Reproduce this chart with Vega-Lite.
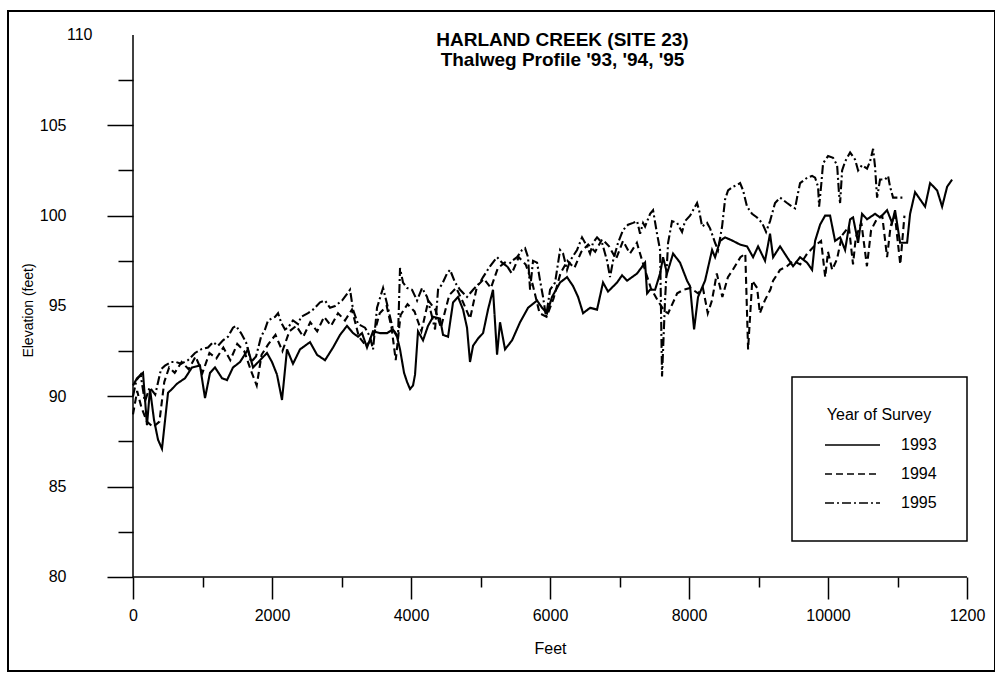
{
"$schema": "https://vega.github.io/schema/vega-lite/v6.json",
"width": 987, "height": 660,
"autosize": {"type": "none"},
"padding": {"left": 8, "top": 11, "right": 0, "bottom": 6},
"background": "white",
"config": {"view": {"stroke": "black", "strokeWidth": 2}, "font": "Liberation Sans"},
"title": {"text": ["HARLAND CREEK (SITE 23)", "Thalweg Profile '93, '94, '95"], "orient": "top", "anchor": "middle", "frame": "group", "offset": 0, "dx": 61, "dy": 59, "fontSize": 19, "fontWeight": "bold", "lineHeight": 20, "font": "Liberation Sans", "color": "black"},
"datasets": {
"profiles": [
{"Year":"1993","Feet":0,"Elevation":90.6},{"Year":"1993","Feet":58,"Elevation":91.0},{"Year":"1993","Feet":144,"Elevation":91.3},{"Year":"1993","Feet":201,"Elevation":88.4},{"Year":"1993","Feet":245,"Elevation":90.4},{"Year":"1993","Feet":302,"Elevation":88.7},{"Year":"1993","Feet":360,"Elevation":87.6},{"Year":"1993","Feet":417,"Elevation":87.1},{"Year":"1993","Feet":504,"Elevation":90.2},{"Year":"1993","Feet":561,"Elevation":90.4},{"Year":"1993","Feet":633,"Elevation":90.7},{"Year":"1993","Feet":748,"Elevation":91.0},{"Year":"1993","Feet":849,"Elevation":91.6},{"Year":"1993","Feet":964,"Elevation":91.7},{"Year":"1993","Feet":1036,"Elevation":89.9},{"Year":"1993","Feet":1108,"Elevation":91.3},{"Year":"1993","Feet":1180,"Elevation":91.6},{"Year":"1993","Feet":1281,"Elevation":91.0},{"Year":"1993","Feet":1353,"Elevation":90.9},{"Year":"1993","Feet":1439,"Elevation":91.6},{"Year":"1993","Feet":1540,"Elevation":91.9},{"Year":"1993","Feet":1655,"Elevation":92.6},{"Year":"1993","Feet":1727,"Elevation":91.6},{"Year":"1993","Feet":1828,"Elevation":92.0},{"Year":"1993","Feet":1928,"Elevation":92.4},{"Year":"1993","Feet":2000,"Elevation":91.9},{"Year":"1993","Feet":2072,"Elevation":91.2},{"Year":"1993","Feet":2144,"Elevation":89.8},{"Year":"1993","Feet":2216,"Elevation":92.6},{"Year":"1993","Feet":2302,"Elevation":91.8},{"Year":"1993","Feet":2403,"Elevation":92.6},{"Year":"1993","Feet":2475,"Elevation":92.8},{"Year":"1993","Feet":2547,"Elevation":93.0},{"Year":"1993","Feet":2648,"Elevation":92.3},{"Year":"1993","Feet":2763,"Elevation":92.0},{"Year":"1993","Feet":2878,"Elevation":92.7},{"Year":"1993","Feet":2979,"Elevation":93.4},{"Year":"1993","Feet":3079,"Elevation":93.9},{"Year":"1993","Feet":3166,"Elevation":93.5},{"Year":"1993","Feet":3238,"Elevation":93.3},{"Year":"1993","Feet":3295,"Elevation":93.5},{"Year":"1993","Feet":3367,"Elevation":92.7},{"Year":"1993","Feet":3454,"Elevation":93.6},{"Year":"1993","Feet":3554,"Elevation":93.5},{"Year":"1993","Feet":3655,"Elevation":93.5},{"Year":"1993","Feet":3741,"Elevation":93.7},{"Year":"1993","Feet":3799,"Elevation":93.3},{"Year":"1993","Feet":3842,"Elevation":92.6},{"Year":"1993","Feet":3900,"Elevation":91.3},{"Year":"1993","Feet":3943,"Elevation":90.8},{"Year":"1993","Feet":3986,"Elevation":90.4},{"Year":"1993","Feet":4029,"Elevation":90.6},{"Year":"1993","Feet":4058,"Elevation":91.2},{"Year":"1993","Feet":4101,"Elevation":93.6},{"Year":"1993","Feet":4173,"Elevation":93.1},{"Year":"1993","Feet":4245,"Elevation":93.9},{"Year":"1993","Feet":4317,"Elevation":94.4},{"Year":"1993","Feet":4418,"Elevation":94.3},{"Year":"1993","Feet":4461,"Elevation":93.4},{"Year":"1993","Feet":4533,"Elevation":93.3},{"Year":"1993","Feet":4605,"Elevation":95.2},{"Year":"1993","Feet":4677,"Elevation":95.5},{"Year":"1993","Feet":4749,"Elevation":94.8},{"Year":"1993","Feet":4806,"Elevation":93.8},{"Year":"1993","Feet":4849,"Elevation":91.9},{"Year":"1993","Feet":4893,"Elevation":92.8},{"Year":"1993","Feet":4965,"Elevation":93.2},{"Year":"1993","Feet":5037,"Elevation":93.5},{"Year":"1993","Feet":5108,"Elevation":94.8},{"Year":"1993","Feet":5180,"Elevation":95.9},{"Year":"1993","Feet":5238,"Elevation":92.3},{"Year":"1993","Feet":5281,"Elevation":94.1},{"Year":"1993","Feet":5353,"Elevation":92.6},{"Year":"1993","Feet":5454,"Elevation":93.1},{"Year":"1993","Feet":5569,"Elevation":94.1},{"Year":"1993","Feet":5684,"Elevation":94.9},{"Year":"1993","Feet":5814,"Elevation":95.3},{"Year":"1993","Feet":5886,"Elevation":94.9},{"Year":"1993","Feet":5957,"Elevation":94.6},{"Year":"1993","Feet":6029,"Elevation":95.5},{"Year":"1993","Feet":6145,"Elevation":96.3},{"Year":"1993","Feet":6245,"Elevation":96.6},{"Year":"1993","Feet":6332,"Elevation":96.1},{"Year":"1993","Feet":6404,"Elevation":95.5},{"Year":"1993","Feet":6476,"Elevation":94.6},{"Year":"1993","Feet":6576,"Elevation":94.9},{"Year":"1993","Feet":6677,"Elevation":94.8},{"Year":"1993","Feet":6763,"Elevation":96.3},{"Year":"1993","Feet":6835,"Elevation":95.8},{"Year":"1993","Feet":6965,"Elevation":96.3},{"Year":"1993","Feet":7037,"Elevation":96.7},{"Year":"1993","Feet":7109,"Elevation":96.4},{"Year":"1993","Feet":7253,"Elevation":96.8},{"Year":"1993","Feet":7368,"Elevation":97.4},{"Year":"1993","Feet":7397,"Elevation":95.7},{"Year":"1993","Feet":7440,"Elevation":95.9},{"Year":"1993","Feet":7512,"Elevation":95.9},{"Year":"1993","Feet":7584,"Elevation":96.8},{"Year":"1993","Feet":7627,"Elevation":97.7},{"Year":"1993","Feet":7684,"Elevation":96.8},{"Year":"1993","Feet":7771,"Elevation":97.9},{"Year":"1993","Feet":7871,"Elevation":97.4},{"Year":"1993","Feet":7972,"Elevation":96.4},{"Year":"1993","Feet":8015,"Elevation":96.1},{"Year":"1993","Feet":8073,"Elevation":93.7},{"Year":"1993","Feet":8130,"Elevation":95.5},{"Year":"1993","Feet":8231,"Elevation":96.4},{"Year":"1993","Feet":8332,"Elevation":98.1},{"Year":"1993","Feet":8375,"Elevation":97.7},{"Year":"1993","Feet":8447,"Elevation":98.6},{"Year":"1993","Feet":8519,"Elevation":98.8},{"Year":"1993","Feet":8634,"Elevation":98.6},{"Year":"1993","Feet":8735,"Elevation":98.4},{"Year":"1993","Feet":8835,"Elevation":98.3},{"Year":"1993","Feet":8922,"Elevation":97.7},{"Year":"1993","Feet":8994,"Elevation":98.3},{"Year":"1993","Feet":9094,"Elevation":97.5},{"Year":"1993","Feet":9166,"Elevation":99.0},{"Year":"1993","Feet":9210,"Elevation":97.7},{"Year":"1993","Feet":9310,"Elevation":98.3},{"Year":"1993","Feet":9411,"Elevation":97.7},{"Year":"1993","Feet":9497,"Elevation":97.2},{"Year":"1993","Feet":9598,"Elevation":97.7},{"Year":"1993","Feet":9699,"Elevation":97.4},{"Year":"1993","Feet":9771,"Elevation":97.0},{"Year":"1993","Feet":9814,"Elevation":98.6},{"Year":"1993","Feet":9886,"Elevation":99.5},{"Year":"1993","Feet":9958,"Elevation":100.0},{"Year":"1993","Feet":10030,"Elevation":100.0},{"Year":"1993","Feet":10102,"Elevation":98.6},{"Year":"1993","Feet":10174,"Elevation":98.8},{"Year":"1993","Feet":10246,"Elevation":98.1},{"Year":"1993","Feet":10318,"Elevation":99.8},{"Year":"1993","Feet":10361,"Elevation":99.9},{"Year":"1993","Feet":10433,"Elevation":98.5},{"Year":"1993","Feet":10490,"Elevation":100.1},{"Year":"1993","Feet":10562,"Elevation":99.8},{"Year":"1993","Feet":10677,"Elevation":100.1},{"Year":"1993","Feet":10749,"Elevation":99.9},{"Year":"1993","Feet":10850,"Elevation":100.3},{"Year":"1993","Feet":10922,"Elevation":99.6},{"Year":"1993","Feet":10965,"Elevation":100.3},{"Year":"1993","Feet":11037,"Elevation":98.5},{"Year":"1993","Feet":11138,"Elevation":98.5},{"Year":"1993","Feet":11181,"Elevation":100.1},{"Year":"1993","Feet":11253,"Elevation":101.3},{"Year":"1993","Feet":11325,"Elevation":100.9},{"Year":"1993","Feet":11397,"Elevation":100.5},{"Year":"1993","Feet":11469,"Elevation":101.8},{"Year":"1993","Feet":11570,"Elevation":101.4},{"Year":"1993","Feet":11642,"Elevation":100.5},{"Year":"1993","Feet":11714,"Elevation":101.6},{"Year":"1993","Feet":11786,"Elevation":102.0},
{"Year":"1994","Feet":0,"Elevation":89.0},{"Year":"1994","Feet":60,"Elevation":90.3},{"Year":"1994","Feet":120,"Elevation":89.4},{"Year":"1994","Feet":200,"Elevation":88.6},{"Year":"1994","Feet":290,"Elevation":88.3},{"Year":"1994","Feet":380,"Elevation":88.6},{"Year":"1994","Feet":450,"Elevation":90.8},{"Year":"1994","Feet":520,"Elevation":91.6},{"Year":"1994","Feet":600,"Elevation":91.3},{"Year":"1994","Feet":700,"Elevation":91.9},{"Year":"1994","Feet":800,"Elevation":91.5},{"Year":"1994","Feet":900,"Elevation":92.2},{"Year":"1994","Feet":1000,"Elevation":91.3},{"Year":"1994","Feet":1100,"Elevation":92.4},{"Year":"1994","Feet":1200,"Elevation":92.1},{"Year":"1994","Feet":1300,"Elevation":92.7},{"Year":"1994","Feet":1400,"Elevation":92.0},{"Year":"1994","Feet":1500,"Elevation":92.9},{"Year":"1994","Feet":1600,"Elevation":92.5},{"Year":"1994","Feet":1700,"Elevation":91.4},{"Year":"1994","Feet":1780,"Elevation":90.6},{"Year":"1994","Feet":1850,"Elevation":92.3},{"Year":"1994","Feet":1950,"Elevation":92.9},{"Year":"1994","Feet":2050,"Elevation":93.4},{"Year":"1994","Feet":2150,"Elevation":92.5},{"Year":"1994","Feet":2250,"Elevation":93.6},{"Year":"1994","Feet":2350,"Elevation":93.9},{"Year":"1994","Feet":2450,"Elevation":93.3},{"Year":"1994","Feet":2550,"Elevation":94.1},{"Year":"1994","Feet":2650,"Elevation":93.6},{"Year":"1994","Feet":2750,"Elevation":94.4},{"Year":"1994","Feet":2850,"Elevation":93.9},{"Year":"1994","Feet":2950,"Elevation":94.6},{"Year":"1994","Feet":3050,"Elevation":94.2},{"Year":"1994","Feet":3150,"Elevation":94.8},{"Year":"1994","Feet":3250,"Elevation":93.3},{"Year":"1994","Feet":3350,"Elevation":92.8},{"Year":"1994","Feet":3450,"Elevation":93.2},{"Year":"1994","Feet":3550,"Elevation":94.6},{"Year":"1994","Feet":3650,"Elevation":95.0},{"Year":"1994","Feet":3720,"Elevation":93.8},{"Year":"1994","Feet":3780,"Elevation":92.0},{"Year":"1994","Feet":3850,"Elevation":94.5},{"Year":"1994","Feet":3950,"Elevation":95.1},{"Year":"1994","Feet":4050,"Elevation":94.7},{"Year":"1994","Feet":4150,"Elevation":93.6},{"Year":"1994","Feet":4250,"Elevation":95.3},{"Year":"1994","Feet":4350,"Elevation":94.8},{"Year":"1994","Feet":4430,"Elevation":93.8},{"Year":"1994","Feet":4550,"Elevation":95.6},{"Year":"1994","Feet":4650,"Elevation":96.0},{"Year":"1994","Feet":4750,"Elevation":95.2},{"Year":"1994","Feet":4850,"Elevation":94.3},{"Year":"1994","Feet":4950,"Elevation":96.1},{"Year":"1994","Feet":5050,"Elevation":96.5},{"Year":"1994","Feet":5150,"Elevation":96.0},{"Year":"1994","Feet":5250,"Elevation":97.1},{"Year":"1994","Feet":5350,"Elevation":97.4},{"Year":"1994","Feet":5450,"Elevation":96.8},{"Year":"1994","Feet":5550,"Elevation":97.7},{"Year":"1994","Feet":5650,"Elevation":97.3},{"Year":"1994","Feet":5750,"Elevation":96.2},{"Year":"1994","Feet":5850,"Elevation":94.6},{"Year":"1994","Feet":5950,"Elevation":94.4},{"Year":"1994","Feet":6050,"Elevation":95.4},{"Year":"1994","Feet":6150,"Elevation":96.8},{"Year":"1994","Feet":6250,"Elevation":97.5},{"Year":"1994","Feet":6350,"Elevation":97.1},{"Year":"1994","Feet":6450,"Elevation":98.0},{"Year":"1994","Feet":6550,"Elevation":98.4},{"Year":"1994","Feet":6650,"Elevation":98.0},{"Year":"1994","Feet":6750,"Elevation":98.7},{"Year":"1994","Feet":6850,"Elevation":98.3},{"Year":"1994","Feet":6950,"Elevation":97.6},{"Year":"1994","Feet":7050,"Elevation":98.6},{"Year":"1994","Feet":7150,"Elevation":97.9},{"Year":"1994","Feet":7250,"Elevation":98.5},{"Year":"1994","Feet":7350,"Elevation":97.2},{"Year":"1994","Feet":7450,"Elevation":96.0},{"Year":"1994","Feet":7550,"Elevation":95.3},{"Year":"1994","Feet":7650,"Elevation":94.7},{"Year":"1994","Feet":7700,"Elevation":94.6},{"Year":"1994","Feet":7830,"Elevation":95.7},{"Year":"1994","Feet":7920,"Elevation":95.9},{"Year":"1994","Feet":8020,"Elevation":96.0},{"Year":"1994","Feet":8130,"Elevation":95.7},{"Year":"1994","Feet":8200,"Elevation":96.0},{"Year":"1994","Feet":8270,"Elevation":94.6},{"Year":"1994","Feet":8330,"Elevation":95.3},{"Year":"1994","Feet":8400,"Elevation":96.8},{"Year":"1994","Feet":8480,"Elevation":95.5},{"Year":"1994","Feet":8560,"Elevation":96.6},{"Year":"1994","Feet":8630,"Elevation":97.0},{"Year":"1994","Feet":8740,"Elevation":97.7},{"Year":"1994","Feet":8810,"Elevation":97.9},{"Year":"1994","Feet":8850,"Elevation":92.6},{"Year":"1994","Feet":8910,"Elevation":96.4},{"Year":"1994","Feet":8980,"Elevation":96.0},{"Year":"1994","Feet":9020,"Elevation":94.6},{"Year":"1994","Feet":9090,"Elevation":95.3},{"Year":"1994","Feet":9170,"Elevation":95.9},{"Year":"1994","Feet":9210,"Elevation":96.4},{"Year":"1994","Feet":9310,"Elevation":97.0},{"Year":"1994","Feet":9410,"Elevation":97.2},{"Year":"1994","Feet":9500,"Elevation":97.5},{"Year":"1994","Feet":9600,"Elevation":97.3},{"Year":"1994","Feet":9700,"Elevation":97.9},{"Year":"1994","Feet":9800,"Elevation":98.3},{"Year":"1994","Feet":9900,"Elevation":98.6},{"Year":"1994","Feet":9960,"Elevation":96.6},{"Year":"1994","Feet":10000,"Elevation":98.0},{"Year":"1994","Feet":10060,"Elevation":97.0},{"Year":"1994","Feet":10130,"Elevation":97.6},{"Year":"1994","Feet":10200,"Elevation":98.9},{"Year":"1994","Feet":10300,"Elevation":99.4},{"Year":"1994","Feet":10360,"Elevation":97.3},{"Year":"1994","Feet":10400,"Elevation":98.8},{"Year":"1994","Feet":10480,"Elevation":99.6},{"Year":"1994","Feet":10560,"Elevation":97.2},{"Year":"1994","Feet":10620,"Elevation":99.2},{"Year":"1994","Feet":10700,"Elevation":99.8},{"Year":"1994","Feet":10780,"Elevation":100.0},{"Year":"1994","Feet":10850,"Elevation":97.7},{"Year":"1994","Feet":10900,"Elevation":99.4},{"Year":"1994","Feet":10960,"Elevation":100.1},{"Year":"1994","Feet":11040,"Elevation":97.3},{"Year":"1994","Feet":11100,"Elevation":100.0},
{"Year":"1995","Feet":0,"Elevation":90.0},{"Year":"1995","Feet":50,"Elevation":90.9},{"Year":"1995","Feet":110,"Elevation":91.2},{"Year":"1995","Feet":170,"Elevation":89.7},{"Year":"1995","Feet":240,"Elevation":90.5},{"Year":"1995","Feet":320,"Elevation":90.1},{"Year":"1995","Feet":403,"Elevation":91.5},{"Year":"1995","Feet":460,"Elevation":91.7},{"Year":"1995","Feet":547,"Elevation":91.9},{"Year":"1995","Feet":619,"Elevation":91.9},{"Year":"1995","Feet":691,"Elevation":91.8},{"Year":"1995","Feet":791,"Elevation":92.0},{"Year":"1995","Feet":892,"Elevation":92.4},{"Year":"1995","Feet":979,"Elevation":92.6},{"Year":"1995","Feet":1079,"Elevation":92.7},{"Year":"1995","Feet":1151,"Elevation":93.0},{"Year":"1995","Feet":1223,"Elevation":92.8},{"Year":"1995","Feet":1295,"Elevation":93.1},{"Year":"1995","Feet":1367,"Elevation":93.3},{"Year":"1995","Feet":1439,"Elevation":93.8},{"Year":"1995","Feet":1482,"Elevation":93.9},{"Year":"1995","Feet":1554,"Elevation":93.5},{"Year":"1995","Feet":1626,"Elevation":93.0},{"Year":"1995","Feet":1698,"Elevation":91.9},{"Year":"1995","Feet":1770,"Elevation":92.2},{"Year":"1995","Feet":1842,"Elevation":93.3},{"Year":"1995","Feet":1899,"Elevation":93.7},{"Year":"1995","Feet":1943,"Elevation":94.2},{"Year":"1995","Feet":2043,"Elevation":94.4},{"Year":"1995","Feet":2087,"Elevation":94.6},{"Year":"1995","Feet":2130,"Elevation":94.1},{"Year":"1995","Feet":2187,"Elevation":93.7},{"Year":"1995","Feet":2230,"Elevation":93.8},{"Year":"1995","Feet":2302,"Elevation":94.2},{"Year":"1995","Feet":2374,"Elevation":94.0},{"Year":"1995","Feet":2418,"Elevation":94.4},{"Year":"1995","Feet":2518,"Elevation":94.6},{"Year":"1995","Feet":2590,"Elevation":94.8},{"Year":"1995","Feet":2691,"Elevation":95.2},{"Year":"1995","Feet":2763,"Elevation":95.3},{"Year":"1995","Feet":2835,"Elevation":94.9},{"Year":"1995","Feet":2907,"Elevation":95.0},{"Year":"1995","Feet":3008,"Elevation":95.3},{"Year":"1995","Feet":3123,"Elevation":95.9},{"Year":"1995","Feet":3166,"Elevation":94.8},{"Year":"1995","Feet":3238,"Elevation":94.0},{"Year":"1995","Feet":3338,"Elevation":93.8},{"Year":"1995","Feet":3410,"Elevation":93.3},{"Year":"1995","Feet":3454,"Elevation":92.6},{"Year":"1995","Feet":3511,"Elevation":94.9},{"Year":"1995","Feet":3598,"Elevation":96.0},{"Year":"1995","Feet":3669,"Elevation":94.9},{"Year":"1995","Feet":3741,"Elevation":93.7},{"Year":"1995","Feet":3813,"Elevation":93.3},{"Year":"1995","Feet":3842,"Elevation":97.1},{"Year":"1995","Feet":3885,"Elevation":96.3},{"Year":"1995","Feet":3943,"Elevation":96.0},{"Year":"1995","Feet":4015,"Elevation":95.9},{"Year":"1995","Feet":4087,"Elevation":95.3},{"Year":"1995","Feet":4159,"Elevation":96.0},{"Year":"1995","Feet":4231,"Elevation":95.5},{"Year":"1995","Feet":4303,"Elevation":94.4},{"Year":"1995","Feet":4346,"Elevation":93.7},{"Year":"1995","Feet":4389,"Elevation":95.9},{"Year":"1995","Feet":4447,"Elevation":96.2},{"Year":"1995","Feet":4518,"Elevation":96.8},{"Year":"1995","Feet":4562,"Elevation":97.0},{"Year":"1995","Feet":4634,"Elevation":96.3},{"Year":"1995","Feet":4706,"Elevation":95.9},{"Year":"1995","Feet":4806,"Elevation":95.5},{"Year":"1995","Feet":4893,"Elevation":95.9},{"Year":"1995","Feet":4993,"Elevation":96.3},{"Year":"1995","Feet":5037,"Elevation":96.6},{"Year":"1995","Feet":5137,"Elevation":97.2},{"Year":"1995","Feet":5238,"Elevation":97.7},{"Year":"1995","Feet":5310,"Elevation":97.4},{"Year":"1995","Feet":5382,"Elevation":97.2},{"Year":"1995","Feet":5454,"Elevation":97.5},{"Year":"1995","Feet":5526,"Elevation":97.7},{"Year":"1995","Feet":5598,"Elevation":98.1},{"Year":"1995","Feet":5641,"Elevation":98.2},{"Year":"1995","Feet":5684,"Elevation":97.7},{"Year":"1995","Feet":5713,"Elevation":95.9},{"Year":"1995","Feet":5756,"Elevation":97.5},{"Year":"1995","Feet":5814,"Elevation":97.4},{"Year":"1995","Feet":5857,"Elevation":96.4},{"Year":"1995","Feet":5900,"Elevation":95.5},{"Year":"1995","Feet":5943,"Elevation":94.4},{"Year":"1995","Feet":6001,"Elevation":95.9},{"Year":"1995","Feet":6073,"Elevation":96.3},{"Year":"1995","Feet":6145,"Elevation":98.1},{"Year":"1995","Feet":6188,"Elevation":97.9},{"Year":"1995","Feet":6245,"Elevation":97.0},{"Year":"1995","Feet":6288,"Elevation":97.5},{"Year":"1995","Feet":6389,"Elevation":98.1},{"Year":"1995","Feet":6461,"Elevation":98.8},{"Year":"1995","Feet":6533,"Elevation":98.3},{"Year":"1995","Feet":6576,"Elevation":97.9},{"Year":"1995","Feet":6619,"Elevation":98.5},{"Year":"1995","Feet":6677,"Elevation":98.8},{"Year":"1995","Feet":6749,"Elevation":98.5},{"Year":"1995","Feet":6821,"Elevation":97.5},{"Year":"1995","Feet":6864,"Elevation":96.6},{"Year":"1995","Feet":6907,"Elevation":97.5},{"Year":"1995","Feet":6979,"Elevation":98.5},{"Year":"1995","Feet":7051,"Elevation":99.2},{"Year":"1995","Feet":7123,"Elevation":99.5},{"Year":"1995","Feet":7195,"Elevation":99.6},{"Year":"1995","Feet":7253,"Elevation":99.7},{"Year":"1995","Feet":7296,"Elevation":99.0},{"Year":"1995","Feet":7339,"Elevation":99.6},{"Year":"1995","Feet":7368,"Elevation":99.4},{"Year":"1995","Feet":7440,"Elevation":100.1},{"Year":"1995","Feet":7483,"Elevation":100.3},{"Year":"1995","Feet":7540,"Elevation":99.0},{"Year":"1995","Feet":7584,"Elevation":98.1},{"Year":"1995","Feet":7612,"Elevation":91.1},{"Year":"1995","Feet":7655,"Elevation":95.3},{"Year":"1995","Feet":7699,"Elevation":98.5},{"Year":"1995","Feet":7756,"Elevation":99.7},{"Year":"1995","Feet":7828,"Elevation":99.6},{"Year":"1995","Feet":7900,"Elevation":99.1},{"Year":"1995","Feet":7943,"Elevation":99.7},{"Year":"1995","Feet":8015,"Elevation":100.0},{"Year":"1995","Feet":8058,"Elevation":100.3},{"Year":"1995","Feet":8116,"Elevation":100.7},{"Year":"1995","Feet":8145,"Elevation":100.3},{"Year":"1995","Feet":8188,"Elevation":99.4},{"Year":"1995","Feet":8260,"Elevation":99.6},{"Year":"1995","Feet":8303,"Elevation":99.3},{"Year":"1995","Feet":8375,"Elevation":98.5},{"Year":"1995","Feet":8418,"Elevation":98.1},{"Year":"1995","Feet":8476,"Elevation":99.4},{"Year":"1995","Feet":8519,"Elevation":100.9},{"Year":"1995","Feet":8562,"Elevation":101.4},{"Year":"1995","Feet":8634,"Elevation":101.6},{"Year":"1995","Feet":8692,"Elevation":101.7},{"Year":"1995","Feet":8735,"Elevation":101.8},{"Year":"1995","Feet":8778,"Elevation":101.4},{"Year":"1995","Feet":8835,"Elevation":100.5},{"Year":"1995","Feet":8907,"Elevation":100.1},{"Year":"1995","Feet":8979,"Elevation":99.9},{"Year":"1995","Feet":9051,"Elevation":99.6},{"Year":"1995","Feet":9109,"Elevation":99.1},{"Year":"1995","Feet":9166,"Elevation":99.7},{"Year":"1995","Feet":9238,"Elevation":100.7},{"Year":"1995","Feet":9310,"Elevation":101.0},{"Year":"1995","Feet":9411,"Elevation":100.7},{"Year":"1995","Feet":9483,"Elevation":100.5},{"Year":"1995","Feet":9526,"Elevation":100.4},{"Year":"1995","Feet":9555,"Elevation":101.0},{"Year":"1995","Feet":9598,"Elevation":101.8},{"Year":"1995","Feet":9699,"Elevation":102.1},{"Year":"1995","Feet":9771,"Elevation":102.2},{"Year":"1995","Feet":9814,"Elevation":102.1},{"Year":"1995","Feet":9857,"Elevation":101.6},{"Year":"1995","Feet":9872,"Elevation":100.5},{"Year":"1995","Feet":9900,"Elevation":101.6},{"Year":"1995","Feet":9929,"Elevation":102.9},{"Year":"1995","Feet":10001,"Elevation":103.3},{"Year":"1995","Feet":10073,"Elevation":103.2},{"Year":"1995","Feet":10131,"Elevation":102.8},{"Year":"1995","Feet":10159,"Elevation":101.2},{"Year":"1995","Feet":10174,"Elevation":100.7},{"Year":"1995","Feet":10203,"Elevation":102.5},{"Year":"1995","Feet":10246,"Elevation":103.0},{"Year":"1995","Feet":10318,"Elevation":103.5},{"Year":"1995","Feet":10390,"Elevation":103.1},{"Year":"1995","Feet":10433,"Elevation":102.5},{"Year":"1995","Feet":10490,"Elevation":102.8},{"Year":"1995","Feet":10562,"Elevation":102.6},{"Year":"1995","Feet":10605,"Elevation":103.0},{"Year":"1995","Feet":10649,"Elevation":103.7},{"Year":"1995","Feet":10677,"Elevation":102.7},{"Year":"1995","Feet":10706,"Elevation":101.0},{"Year":"1995","Feet":10749,"Elevation":102.0},{"Year":"1995","Feet":10821,"Elevation":102.0},{"Year":"1995","Feet":10864,"Elevation":102.2},{"Year":"1995","Feet":10893,"Elevation":101.6},{"Year":"1995","Feet":10936,"Elevation":101.0},{"Year":"1995","Feet":10965,"Elevation":101.0},{"Year":"1995","Feet":11109,"Elevation":101.0}
]
},
"layer": [
{
"data": {"name": "profiles"},
"mark": {"type": "line", "color": "black", "strokeWidth": 2.1},
"encoding": {
"x": {"field": "Feet", "type": "quantitative",
"scale": {"domain": [-1798.6, 12402.8], "nice": false, "zero": false},
"axis": {"title": "Feet", "orient": "bottom", "offset": -94, "domain": false, "grid": false,
"values": [0,1000,2000,3000,4000,5000,6000,7000,8000,9000,10000,11000,12000],
"tickColor": "black", "tickWidth": 1.5,
"tickSize": {"condition": {"test": "datum.value % 2000 === 0", "value": 22}, "value": 10},
"labelExpr": "datum.value % 2000 === 0 ? (datum.value === 12000 ? '1200' : format(datum.value, 'd')) : ''",
"labelFont": "Liberation Sans", "labelFontSize": 16, "labelColor": "black", "labelPadding": 8, "labelFlush": false, "labelOverlap": false,
"titleFont": "Liberation Sans", "titleFontSize": 16, "titleFontWeight": "normal", "titleColor": "black",
"titleX": 542, "titleY": 71, "titleBaseline": "middle", "titleAlign": "center"}},
"y": {"field": "Elevation", "type": "quantitative",
"scale": {"domain": [74.797, 111.328], "nice": false, "zero": false},
"axis": {"title": "Elevation (feet)", "orient": "left", "offset": -125, "domain": false, "grid": false,
"values": [80,82.5,85,87.5,90,92.5,95,97.5,100,102.5,105,107.5,110],
"tickColor": "black", "tickWidth": 1.5,
"tickSize": {"condition": [{"test": "datum.value === 110", "value": 0}, {"test": "datum.value % 5 === 0", "value": 26}], "value": 15},
"labelExpr": "datum.value % 5 === 0 ? format(datum.value, 'd') : ''",
"labelFont": "Liberation Sans", "labelFontSize": 16, "labelColor": "black", "labelPadding": 41, "labelFlush": false, "labelOverlap": false,
"titleFont": "Liberation Sans", "titleFontSize": 14, "titleFontWeight": "normal", "titleColor": "black",
"titleX": -105, "titleY": 299, "titleBaseline": "middle", "titleAlign": "center", "titleAngle": 270}},
"strokeDash": {"field": "Year", "type": "nominal",
"scale": {"domain": ["1993", "1994", "1995"], "range": [[1, 0], [7, 4], [9, 3, 2, 3]]},
"legend": {"title": "Year of Survey", "orient": "none", "legendX": 784, "legendY": 366, "direction": "vertical",
"padding": 30, "strokeColor": "black", "fillColor": "white",
"titleFont": "Liberation Sans", "titleFontSize": 16, "titleFontWeight": "normal", "titleColor": "black", "titleAnchor": "middle", "titlePadding": 14,
"labelFont": "Liberation Sans", "labelFontSize": 16, "labelColor": "black", "labelOffset": 63,
"symbolType": "M-1,0H10", "symbolSize": 100, "symbolStrokeWidth": 1.5, "symbolStrokeColor": "black", "rowPadding": 13,
"encode": {"legend": {"update": {"strokeWidth": {"value": 1.5}}}}}}
}
},
{
"data": {"values": [{}]},
"mark": {"type": "rule", "color": "black", "strokeWidth": 1.5},
"encoding": {"x": {"datum": 0, "type": "quantitative"}, "y": {"datum": 80, "type": "quantitative"}, "y2": {"datum": 110}}
},
{
"data": {"values": [{}]},
"mark": {"type": "rule", "color": "black", "strokeWidth": 1.5},
"encoding": {"y": {"datum": 80, "type": "quantitative"}, "x": {"datum": 0, "type": "quantitative"}, "x2": {"datum": 12000}}
}
]
}
